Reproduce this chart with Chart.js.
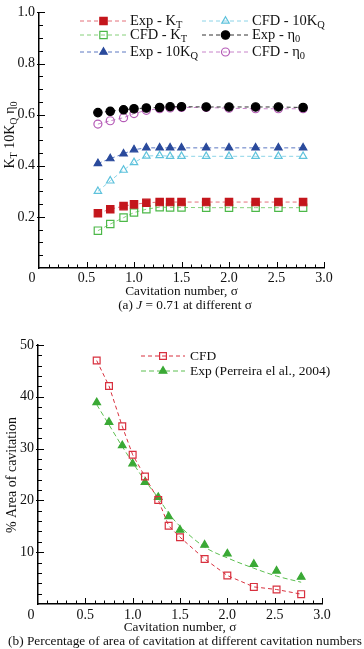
<!DOCTYPE html>
<html>
<head>
<meta charset="utf-8">
<script src="https://cdn.jsdelivr.net/npm/chart.js@4.4.0/dist/chart.umd.min.js"></script>
<style>
  body { margin: 0; background: #fff; width: 364px; height: 649px; overflow: hidden; position: relative; font-family: "Liberation Serif", serif; }
  canvas { position: absolute; left: 0; }
  #ca { top: 0; }
  #cb { top: 320px; }
  .cap { position: absolute; left: 0; width: 364px; text-align: center; font-size: 13.3px; line-height: 15px; color: #111; white-space: nowrap; }
</style>
</head>
<body>
<canvas id="ca" width="364" height="320"></canvas>
<canvas id="cb" width="364" height="329"></canvas>
<div class="cap" style="top:297px; left:3px">(a) <i>J</i> = 0.71 at different σ</div>
<div class="cap" style="top:633px; left:3px">(b) Percentage of area of cavitation at different cavitation numbers</div>
<script>
// cavitation numbers (same for all series)
const sigma = [0.62, 0.75, 0.89, 1.0, 1.13, 1.27, 1.38, 1.5, 1.76, 2.0, 2.28, 2.52, 2.78];

// (a) J = 0.71
const expKT   = [0.214, 0.230, 0.242, 0.249, 0.255, 0.258, 0.258, 0.258, 0.258, 0.258, 0.258, 0.258, 0.258];
const cfdKT   = [0.146, 0.172, 0.197, 0.217, 0.230, 0.238, 0.237, 0.237, 0.236, 0.236, 0.236, 0.236, 0.236];
const exp10KQ = [0.409, 0.428, 0.447, 0.463, 0.470, 0.470, 0.470, 0.470, 0.470, 0.470, 0.470, 0.470, 0.470];
const cfd10KQ = [0.300, 0.341, 0.383, 0.413, 0.438, 0.440, 0.437, 0.437, 0.437, 0.437, 0.437, 0.437, 0.437];
const expEta  = [0.608, 0.613, 0.619, 0.623, 0.626, 0.628, 0.631, 0.631, 0.630, 0.630, 0.630, 0.630, 0.628];
const cfdEta  = [0.563, 0.576, 0.588, 0.604, 0.617, 0.623, 0.626, 0.628, 0.628, 0.625, 0.623, 0.623, 0.623];

// (b) % area of cavitation
const cfdArea = [47.0, 42.1, 34.3, 28.8, 24.6, 20.1, 15.1, 12.9, 8.7, 5.5, 3.3, 2.8, 1.9];
const expArea = [38.9, 35.1, 30.6, 27.1, 23.5, 20.6, 16.9, 14.3, 11.4, 9.7, 7.7, 6.4, 5.2];
const expFit  = [38.5, 34.6, 30.4, 27.3, 23.8, 20.5, 17.5, 15.0, 11.0, 8.9, 6.9, 5.4, 4.2];

Chart.defaults.font.family = '"Liberation Serif", serif';
Chart.defaults.color = '#111';

const pts = arr => arr.map((v, i) => ({ x: sigma[i], y: v }));

function ser(label, data, col, lineCol, style, filled, r, extra) {
  return Object.assign({
    label: label,
    data: pts(data),
    borderColor: lineCol,
    borderWidth: 1,
    borderDash: [4, 3],
    pointStyle: style,
    pointRadius: r,
    pointHoverRadius: r,
    pointBorderColor: col,
    pointBackgroundColor: filled ? col : 'rgba(0,0,0,0)',
    pointBorderWidth: 1.2,
    fill: false
  }, extra || {});
}

// text with "_x" subscripts
function rich(ctx, str, x, y, size, center) {
  const parts = [];
  for (let i = 0; i < str.length; i++) {
    if (str[i] === '_') { parts.push([str[i + 1], true]); i++; }
    else parts.push([str[i], false]);
  }
  const fnt = s => s + 'px "Liberation Serif", serif';
  let w = 0;
  parts.forEach(p => { ctx.font = fnt(p[1] ? size * 0.72 : size); w += ctx.measureText(p[0]).width; });
  let cx = center ? x - w / 2 : x;
  ctx.textBaseline = 'middle';
  ctx.textAlign = 'left';
  parts.forEach(p => {
    ctx.font = fnt(p[1] ? size * 0.72 : size);
    ctx.fillText(p[0], cx, p[1] ? y + size * 0.32 : y);
    cx += ctx.measureText(p[0]).width;
  });
}

const deco = {
  id: 'deco',
  afterDraw(chart, args, o) {
    const ctx = chart.ctx, xs = chart.scales.x, ys = chart.scales.y, a = chart.chartArea;
    ctx.save();
    ctx.strokeStyle = '#000';
    ctx.lineWidth = 1;
    // inward ticks, major + minor
    const nx = Math.round((xs.max - xs.min) / o.xMinor);
    for (let i = 1; i <= nx; i++) {
      const px = Math.round(xs.getPixelForValue(xs.min + i * o.xMinor)) + 0.5;
      const len = i % o.xEvery === 0 ? 6 : 3.5;
      ctx.beginPath(); ctx.moveTo(px, a.bottom); ctx.lineTo(px, a.bottom - len); ctx.stroke();
    }
    const ny = Math.round((ys.max - ys.min) / o.yMinor);
    for (let i = 1; i <= ny; i++) {
      const py = Math.round(ys.getPixelForValue(ys.min + i * o.yMinor)) + 0.5;
      const major = i % o.yEvery === 0;
      ctx.beginPath(); ctx.moveTo(a.left - (major ? 2 : 0), py); ctx.lineTo(a.left + (major ? 6 : 4), py); ctx.stroke();
    }
    // legend
    ctx.fillStyle = '#111';
    o.legend.forEach(e => {
      const ds = chart.data.datasets[e.ds];
      const ls = chart.data.datasets[e.line !== undefined ? e.line : e.ds];
      ctx.save();
      ctx.strokeStyle = ls.borderColor;
      ctx.lineWidth = 1;
      ctx.setLineDash(ls.borderDash);
      ctx.beginPath(); ctx.moveTo(e.x0, e.y); ctx.lineTo(e.x1, e.y); ctx.stroke();
      ctx.setLineDash([]);
      ctx.fillStyle = ds.pointBackgroundColor;
      ctx.strokeStyle = ds.pointBorderColor;
      ctx.lineWidth = ds.pointBorderWidth;
      Chart.helpers.drawPoint(ctx, { pointStyle: ds.pointStyle, radius: ds.pointRadius, borderWidth: ds.pointBorderWidth, rotation: 0 }, (e.x0 + e.x1) / 2, e.y);
      ctx.restore();
      ctx.fillStyle = '#111';
      rich(ctx, e.text, e.tx, e.y, o.legendSize, false);
    });
    // rotated y title
    ctx.translate(o.yTitleX, o.yTitleY);
    ctx.rotate(-Math.PI / 2);
    rich(ctx, o.yTitle, 0, 0, 14, true);
    ctx.restore();
  }
};

function make(id, box, datasets, xCfg, yCfg, deco_opts) {
  return new Chart(document.getElementById(id), {
    type: 'line',
    data: { datasets: datasets },
    options: {
      responsive: false,
      animation: false,
      devicePixelRatio: 1,
      layout: { padding: { left: 0, right: box.w - box.right, top: box.top, bottom: 0 } },
      plugins: { legend: { display: false }, tooltip: { enabled: false }, deco: deco_opts },
      scales: {
        x: {
          type: 'linear', min: 0, max: 3,
          grid: { display: false, drawTicks: false },
          border: { display: true, color: '#000', width: 1.5 },
          // the "0" sits left of the corner, so pad it with spaces
          ticks: { stepSize: 0.5, font: { size: 14 }, padding: xCfg.pad, callback: v => v === 0 ? '0\u2002\u2002' : v.toFixed(1) },
          title: { display: true, text: 'Cavitation number, σ', font: { size: 13.3 }, padding: { top: 0, bottom: xCfg.tpad } },
          afterFit: s => { s.height = box.h - box.bottom; }
        },
        y: {
          type: 'linear', min: yCfg.min, max: yCfg.max,
          grid: { display: false, drawTicks: false },
          border: { display: true, color: '#000', width: 1.5 },
          ticks: { stepSize: yCfg.step, font: { size: 14 }, padding: 4, callback: yCfg.fmt },
          afterFit: s => { s.width = box.left; }
        }
      }
    },
    plugins: [deco]
  });
}

make('ca', { w: 364, h: 320, left: 39, right: 324, top: 8, bottom: 268 }, [
  ser('Exp - KT', expKT, '#c4161c', '#e4707a', 'rect', true, 5.2),
  ser('CFD - KT', cfdKT, '#4cb848', '#86d07a', 'rect', false, 5.2),
  ser('Exp - 10KQ', exp10KQ, '#2a4a9c', '#5c78c2', 'triangle', true, 4.3),
  ser('CFD - 10KQ', cfd10KQ, '#5ec2dc', '#8cd4e8', 'triangle', false, 4.3),
  ser('Exp - η0', expEta, '#000000', '#333333', 'circle', true, 4.2),
  ser('CFD - η0', cfdEta, '#b45ab6', '#c884ca', 'circle', false, 4.0)
], { pad: 2, tpad: 21 }, { min: 0, max: 1, step: 0.2, fmt: v => v === 0 ? '' : v.toFixed(1) }, {
  xMinor: 0.1, xEvery: 5, yMinor: 0.05, yEvery: 4,
  legendSize: 14.5,
  yTitle: 'K_T 10K_Q η_0', yTitleX: 10, yTitleY: 135,
  legend: [
    { ds: 0, x0: 80, x1: 127, y: 21, tx: 130, text: 'Exp - K_T' },
    { ds: 1, x0: 80, x1: 127, y: 35, tx: 130, text: 'CFD - K_T' },
    { ds: 2, x0: 80, x1: 127, y: 52, tx: 130, text: 'Exp - 10K_Q' },
    { ds: 3, x0: 202, x1: 249, y: 21, tx: 252, text: 'CFD - 10K_Q' },
    { ds: 4, x0: 202, x1: 249, y: 35, tx: 252, text: 'Exp - η_0' },
    { ds: 5, x0: 202, x1: 249, y: 52, tx: 252, text: 'CFD - η_0' }
  ]
});

make('cb', { w: 364, h: 329, left: 38, right: 322, top: 25, bottom: 284 }, [
  ser('CFD', cfdArea, '#d8303e', '#d8303e', 'rect', false, 4.8),
  ser('Exp (Perreira el al., 2004)', expArea, '#3aa935', '#3aa935', 'triangle', true, 4.4, { showLine: false }),
  ser('fit', expFit, '#3aa935', '#5cbf50', 'circle', false, 0, { cubicInterpolationMode: 'monotone', borderDash: [5, 3] })
], { pad: 3, tpad: 14 }, { min: 0, max: 50, step: 10, fmt: v => v === 0 ? '' : v }, {
  xMinor: 0.1, xEvery: 5, yMinor: 2, yEvery: 5,
  legendSize: 13.5,
  yTitle: '% Area of cavitation', yTitleX: 12, yTitleY: 155,
  legend: [
    { ds: 0, x0: 141, x1: 185, y: 36, tx: 190, text: 'CFD' },
    { ds: 1, line: 2, x0: 141, x1: 185, y: 51, tx: 190, text: 'Exp (Perreira el al., 2004)' }
  ]
});
</script>
</body>
</html>
